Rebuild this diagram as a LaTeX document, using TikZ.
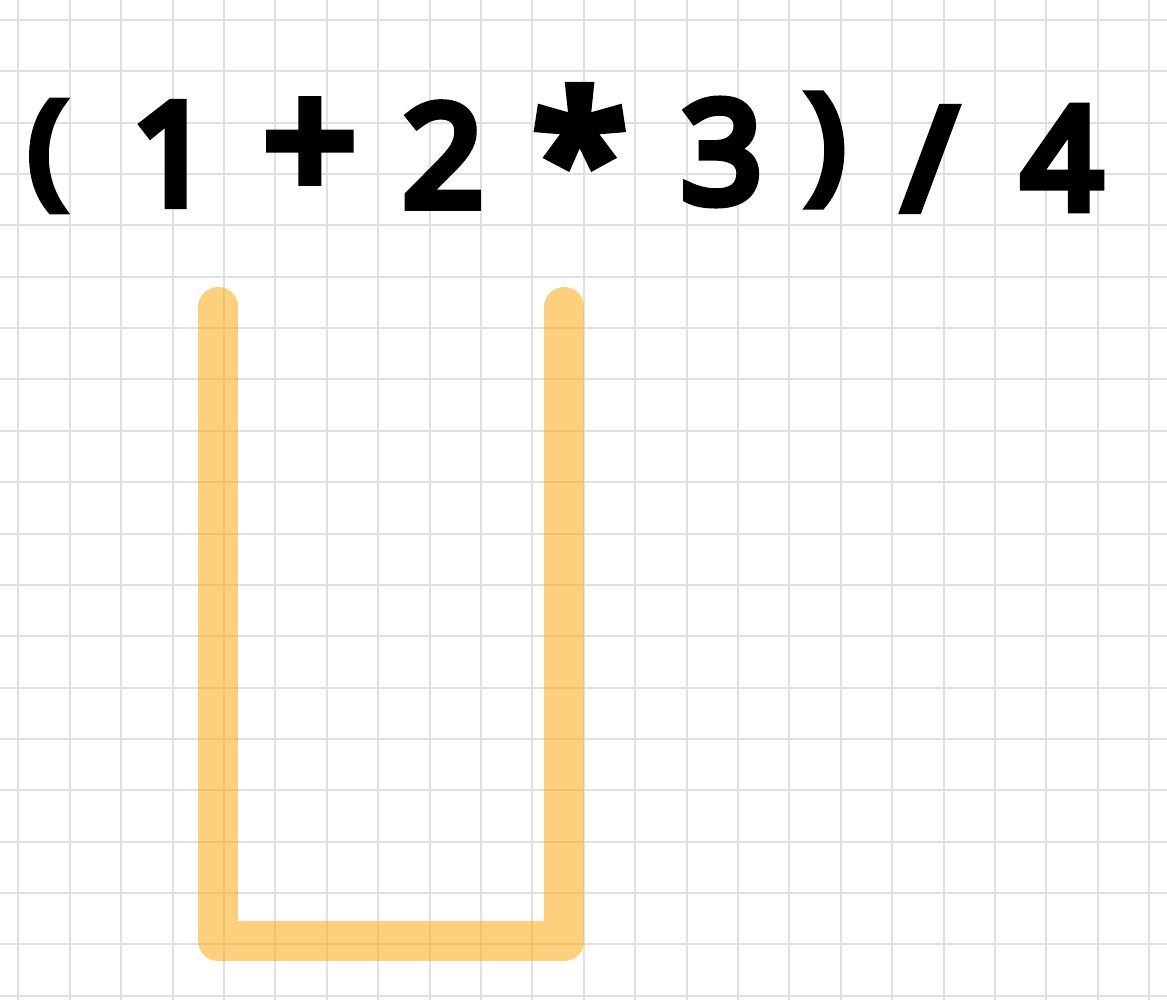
\documentclass[tikz,border=0pt]{standalone}
\usepackage{fontspec}
\newfontfamily\handfont[FakeBold=7]{Noto Sans}
\usetikzlibrary{calc}
\definecolor{gridgray}{RGB}{224,224,224}
\definecolor{stackorange}{RGB}{253,170,20}

\begin{document}
\begin{tikzpicture}[x=0.2mm, y=-0.2mm,
    sym/.style={font=\handfont\fontsize{80}{80}\selectfont, inner sep=0pt, anchor=center}]
            \useasboundingbox(0,0)rectangle(1167,1000);
            \fill[white](0,0)rectangle(1167,1000);
            % grid
            \foreach \i in {0,...,22}
                \path[draw, gridgray, line width=0.4mm]({18.3+51.4*\i},0)to({18.3+51.4*\i},1000);
            \foreach \j in {0,...,19}
                \path[draw, gridgray, line width=0.4mm](0,{20+51.35*\j})to(1167,{20+51.35*\j});
            % corners of the stack
            \coordinate(A)at(218,307);
            \coordinate(B)at(218,941);
            \coordinate(C)at(564,941);
            \coordinate(D)at(564,307);
            % stack
            \path[draw, stackorange, opacity=0.55, line width=8mm, line cap=round, line join=round]
                (A)to(B)to(C)to(D);
            % expression
            \node[sym, scale=0.88](lp)at(47,156){(};
            \node[sym](one)at(172,154){1};
            \node[sym, scale=1.15](plus)at(310,150){+};
            \node[sym](two)at(443,155){2};
            \node[sym, scale=1.2](star)at(580,152){*};
            \node[sym](three)at(722,152){3};
            \node[sym, scale=0.9](rp)at(826,150){)};
            \node[sym](slash)at(930,159){/};
            \node[sym](four)at(1062,158){4};
        \end{tikzpicture}
\end{document}
